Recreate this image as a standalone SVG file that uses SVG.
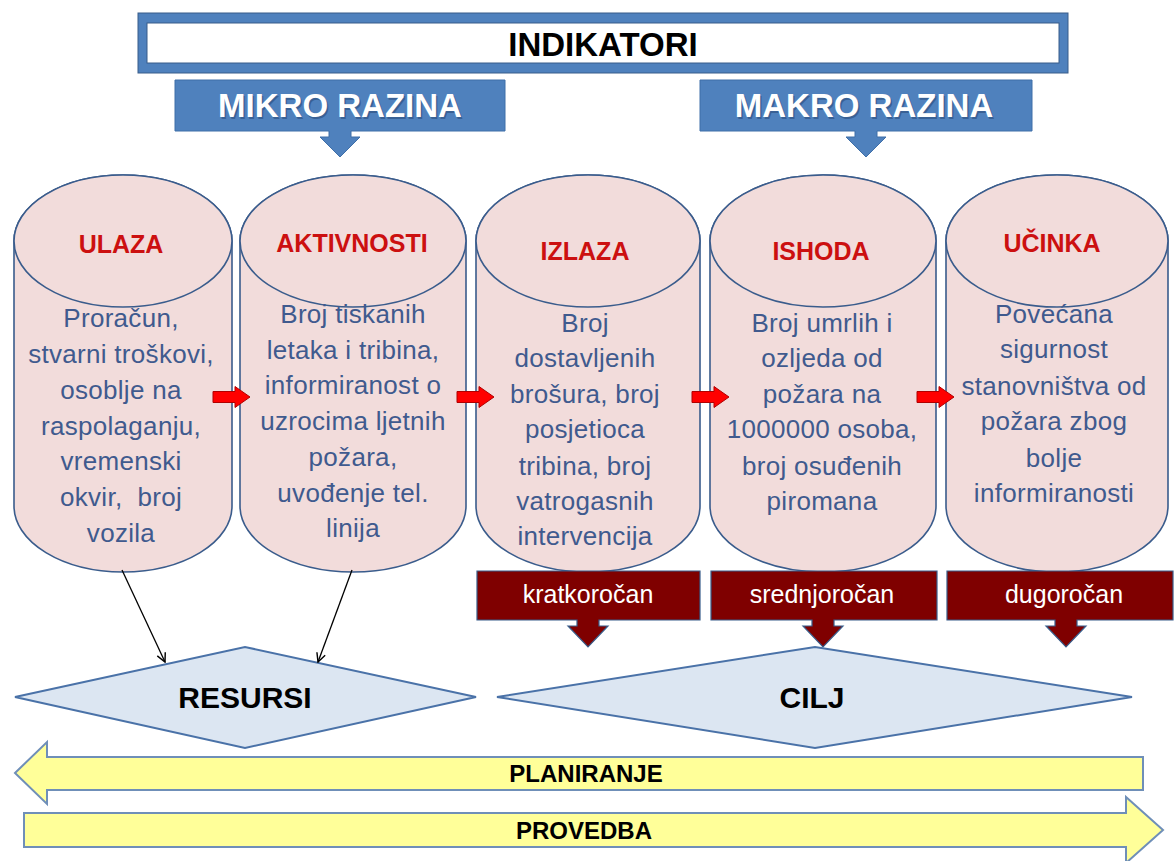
<svg xmlns="http://www.w3.org/2000/svg" width="1175" height="861" viewBox="0 0 1175 861">
<defs>
<style>
.cyl{fill:#F2DCDB;stroke:#3A5C8C;stroke-width:1.6}
.ttl{font-family:"Liberation Sans",Arial,sans-serif;font-weight:bold;font-size:25px;fill:#CC1010;text-anchor:middle}
.body{font-family:"Liberation Sans",Arial,sans-serif;font-size:26px;fill:#405A8E;text-anchor:middle;letter-spacing:0.3px}
.blue{fill:#4F81BD;stroke:#3F6FA8;stroke-width:1}
.lvl{font-family:"Liberation Sans",Arial,sans-serif;font-weight:bold;font-size:33px;fill:#FFFFFF;text-anchor:middle}
.lvlsh{font-family:"Liberation Sans",Arial,sans-serif;font-weight:bold;font-size:33px;fill:#1F3B66;opacity:0.45;text-anchor:middle}
.maroon{fill:#7F0000;stroke:#385D8A;stroke-width:1.2}
.term{font-family:"Liberation Sans",Arial,sans-serif;font-size:25px;fill:#FFFFFF;text-anchor:middle}
.dia{fill:#DCE6F2;stroke:#4A72A8;stroke-width:2}
.dtxt{font-family:"Liberation Sans",Arial,sans-serif;font-weight:bold;font-size:30px;fill:#000000;text-anchor:middle}
.yel{fill:#FFFF99;stroke:#6F8FB8;stroke-width:2}
.ytxt{font-family:"Liberation Sans",Arial,sans-serif;font-weight:bold;font-size:24px;fill:#000000;text-anchor:middle}
.red{fill:#FF0000;stroke:#B00000;stroke-width:1}
.conn{stroke:#000000;stroke-width:1.3;fill:none;marker-end:url(#open)}
</style>
<marker id="open" viewBox="0 0 10 10" refX="9" refY="5" markerWidth="11" markerHeight="11" markerUnits="userSpaceOnUse" orient="auto">
<path d="M1,1 L9,5 L1,9" fill="none" stroke="#000000" stroke-width="1.3"/>
</marker>
<path id="redarrow" d="M0,-5.5 H22 V-10.5 L37,0 L22,10.5 V5.5 H0 Z"/>
</defs>

<g id="indikatori">
<rect x="138" y="13" width="930" height="60" fill="#4F81BD" stroke="#385D8A" stroke-width="1"/>
<rect x="147" y="23" width="912" height="40" fill="#FFFFFF" stroke="#385D8A" stroke-width="1"/>
<text x="603" y="56" font-family="Liberation Sans, Arial, sans-serif" font-weight="bold" font-size="33" fill="#000000" text-anchor="middle">INDIKATORI</text>
</g>

<g id="mikro">
<path class="blue" d="M175,80 H505 V131 H351 V137 H360 L340,157 L320,137 H329 V131 H175 Z"/>
<text class="lvlsh" x="341.5" y="118.5">MIKRO RAZINA</text>
<text class="lvl" x="340" y="117">MIKRO RAZINA</text>
</g>

<g id="makro">
<path class="blue" d="M700,80 H1032 V131 H877 V137 H886 L866,157 L846,137 H855 V131 H700 Z"/>
<text class="lvlsh" x="865.5" y="118.5">MAKRO RAZINA</text>
<text class="lvl" x="864" y="117">MAKRO RAZINA</text>
</g>

<g id="ulaza">
<path class="cyl" d="M14,241 V506 A109,66 0 0 0 232,506 V241 A109,66 0 0 0 14,241 Z"/>
<ellipse class="cyl" cx="123" cy="241" rx="109" ry="66"/>
<text class="ttl" x="121" y="253">ULAZA</text>
<text class="body" x="121"><tspan x="121" y="327">Proračun,</tspan><tspan x="121" y="363">stvarni troškovi,</tspan><tspan x="121" y="399">osoblje na</tspan><tspan x="121" y="435">raspolaganju,</tspan><tspan x="121" y="470">vremenski</tspan><tspan x="121" y="506">okvir,&#160; broj</tspan><tspan x="121" y="542">vozila</tspan></text>
</g>

<g id="aktivnosti">
<path class="cyl" d="M240,241 V506 A113,66 0 0 0 466,506 V241 A113,66 0 0 0 240,241 Z"/>
<ellipse class="cyl" cx="353" cy="241" rx="113" ry="66"/>
<text class="ttl" x="352" y="252">AKTIVNOSTI</text>
<text class="body" x="353"><tspan x="353" y="323">Broj tiskanih</tspan><tspan x="353" y="359">letaka i tribina,</tspan><tspan x="353" y="394">informiranost o</tspan><tspan x="353" y="430">uzrocima ljetnih</tspan><tspan x="353" y="466">požara,</tspan><tspan x="353" y="502">uvođenje tel.</tspan><tspan x="353" y="537">linija</tspan></text>
</g>

<g id="izlaza">
<path class="cyl" d="M476,241 V506 A112,66 0 0 0 700,506 V241 A112,66 0 0 0 476,241 Z"/>
<ellipse class="cyl" cx="588" cy="241" rx="112" ry="66"/>
<text class="ttl" x="585" y="260">IZLAZA</text>
<text class="body" x="585"><tspan x="585" y="332">Broj</tspan><tspan x="585" y="367">dostavljenih</tspan><tspan x="585" y="403">brošura, broj</tspan><tspan x="585" y="438">posjetioca</tspan><tspan x="585" y="475">tribina, broj</tspan><tspan x="585" y="510">vatrogasnih</tspan><tspan x="585" y="545">intervencija</tspan></text>
</g>

<g id="ishoda">
<path class="cyl" d="M710,241 V506 A113,66 0 0 0 936,506 V241 A113,66 0 0 0 710,241 Z"/>
<ellipse class="cyl" cx="823" cy="241" rx="113" ry="66"/>
<text class="ttl" x="821" y="260">ISHODA</text>
<text class="body" x="822"><tspan x="822" y="332">Broj umrlih i</tspan><tspan x="822" y="367">ozljeda od</tspan><tspan x="822" y="403">požara na</tspan><tspan x="822" y="438">1000000 osoba,</tspan><tspan x="822" y="475">broj osuđenih</tspan><tspan x="822" y="510">piromana</tspan></text>
</g>

<g id="ucinka">
<path class="cyl" d="M946,241 V506 A111,66 0 0 0 1168,506 V241 A111,66 0 0 0 946,241 Z"/>
<ellipse class="cyl" cx="1057" cy="241" rx="111" ry="66"/>
<text class="ttl" x="1052" y="252">UČINKA</text>
<text class="body" x="1054"><tspan x="1054" y="323">Povećana</tspan><tspan x="1054" y="358">sigurnost</tspan><tspan x="1054" y="395">stanovništva od</tspan><tspan x="1054" y="430">požara zbog</tspan><tspan x="1054" y="467">bolje</tspan><tspan x="1054" y="502">informiranosti</tspan></text>
</g>

<g id="kratkorocan">
<path class="maroon" d="M477,571 H700 V620 H599 V626 H608 L588,647 L568,626 H577 V620 H477 Z"/>
<text class="term" x="588" y="603">kratkoročan</text>
</g>

<g id="srednjorocan">
<path class="maroon" d="M711,571 H937 V620 H834 V626 H843 L823,647 L803,626 H812 V620 H711 Z"/>
<text class="term" x="822" y="603">srednjoročan</text>
</g>

<g id="dugorocan">
<path class="maroon" d="M947,571 H1173 V620 H1077 V626 H1086 L1066,647 L1046,626 H1055 V620 H947 Z"/>
<text class="term" x="1064" y="603">dugoročan</text>
</g>

<g id="resursi">
<polygon class="dia" points="15,697 245,647 476,697 245,748"/>
<text class="dtxt" x="245" y="708">RESURSI</text>
</g>

<g id="cilj">
<polygon class="dia" points="497,697 815,647 1132,697 815,748"/>
<text class="dtxt" x="812" y="708">CILJ</text>
</g>

<g id="planiranje">
<path class="yel" d="M15,773 L47,742 V757 H1143 V790 H47 V804 Z"/>
<text class="ytxt" x="586" y="782">PLANIRANJE</text>
</g>

<g id="provedba">
<path class="yel" d="M24,813 H1126 V797 L1163,830 L1126,863 V847 H24 Z"/>
<text class="ytxt" x="584" y="839">PROVEDBA</text>
</g>

<g id="connectors">
<line class="conn" x1="122" y1="570" x2="165" y2="662"/>
<line class="conn" x1="352" y1="570" x2="318" y2="662"/>
<use href="#redarrow" class="red" transform="translate(213,397)"/>
<use href="#redarrow" class="red" transform="translate(457,397)"/>
<use href="#redarrow" class="red" transform="translate(692,397)"/>
<use href="#redarrow" class="red" transform="translate(917,397)"/>
</g>
</svg>
